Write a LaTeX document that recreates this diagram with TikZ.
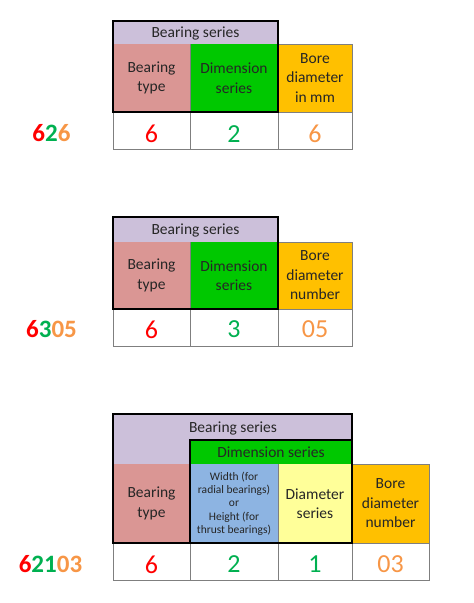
\documentclass[tikz,border=0pt]{standalone}
\usepackage{fontspec}
\setmainfont{Carlito}
\definecolor{seriesfill}{HTML}{CCC0DA}
\definecolor{typefill}{HTML}{DA9694}
\definecolor{dimfill}{HTML}{00C800}
\definecolor{borefill}{HTML}{FFC000}
\definecolor{widthfill}{HTML}{8DB4E2}
\definecolor{diafill}{HTML}{FFFF99}
\definecolor{linegrey}{HTML}{7F7F7F}
\definecolor{textdark}{HTML}{262626}
\definecolor{digred}{HTML}{FF0000}
\definecolor{diggreen}{HTML}{00B050}
\definecolor{digorange}{HTML}{F79646}

\begin{document}
\begin{tikzpicture}[x=1pt,y=-1pt,line join=miter,
    cellbox/.style={draw=linegrey,line width=0.8pt},
    groupbox/.style={draw=black,line width=2.4pt},
    head/.style={inner sep=0pt,text=textdark,font=\fontsize{15.5}{17}\selectfont},
    body/.style={inner sep=0pt,align=center,text=textdark,font=\fontsize{15.5}{19.5}\selectfont},
    small/.style={inner sep=0pt,align=center,text=textdark,font=\fontsize{11.5}{13.3}\selectfont},
    digit/.style={inner sep=0pt,font=\fontsize{26}{26}\selectfont},
    code/.style={inner sep=0pt,font=\fontsize{25}{25}\selectfont\bfseries}]
  \useasboundingbox (0,0) rectangle (474,603);

  % first table: 626
  \fill[seriesfill] (113,21) rectangle (278,44);
  \fill[typefill] (113,44) rectangle (190,112);
  \fill[dimfill] (190,44) rectangle (278,112);
  \draw[cellbox,fill=borefill] (278,44) rectangle (352,112);
  \draw[cellbox] (190,44) -- (190,112);
  \draw[cellbox] (113,112) rectangle (352,149) (190,112) -- (190,149) (278,112) -- (278,149);
  \draw[groupbox] (113,21) rectangle (278,112);
  \node[head] (seriesA) at (195.5,33) {Bearing series};
  \node[body] (typeA) at (151.5,78) {Bearing\\type};
  \node[body] (dimA) at (234,78) {Dimension\\series};
  \node[body] (boreA) at (315,78) {Bore\\diameter\\in mm};
  \node[digit,text=digred] (typevalA) at (151.5,134) {6};
  \node[digit,text=diggreen] (dimvalA) at (234,134) {2};
  \node[digit,text=digorange] (borevalA) at (315,134) {6};
  \node[code] (codeA) at (51.5,133.5) {\textcolor{digred}{6}\textcolor{diggreen}{2}\textcolor{digorange}{6}};

  % second table: 6305
  \fill[seriesfill] (113,217) rectangle (278,242);
  \fill[typefill] (113,242) rectangle (190,309);
  \fill[dimfill] (190,242) rectangle (278,309);
  \draw[cellbox,fill=borefill] (278,242) rectangle (352,309);
  \draw[cellbox] (190,242) -- (190,309);
  \draw[cellbox] (113,309) rectangle (352,346) (190,309) -- (190,346) (278,309) -- (278,346);
  \draw[groupbox] (113,217) rectangle (278,309);
  \node[head] (seriesB) at (195.5,230) {Bearing series};
  \node[body] (typeB) at (151.5,275.5) {Bearing\\type};
  \node[body] (dimB) at (234,275.5) {Dimension\\series};
  \node[body] (boreB) at (315,275.5) {Bore\\diameter\\number};
  \node[digit,text=digred] (typevalB) at (151.5,329.5) {6};
  \node[digit,text=diggreen] (dimvalB) at (234,329.5) {3};
  \node[digit,text=digorange] (borevalB) at (315,329.5) {05};
  \node[code] (codeB) at (51.5,329) {\textcolor{digred}{6}\textcolor{diggreen}{3}\textcolor{digorange}{05}};

  % third table: 62103
  \fill[seriesfill] (113,414) rectangle (352,464);
  \fill[dimfill] (190,440) rectangle (352,464);
  \fill[typefill] (113,464) rectangle (190,543);
  \fill[widthfill] (190,464) rectangle (278,543);
  \fill[diafill] (278,464) rectangle (352,543);
  \draw[cellbox,fill=borefill] (352,464) rectangle (429,543);
  \draw[cellbox] (278,464) -- (278,543);
  \draw[cellbox] (113,543) rectangle (429,580);
  \foreach \x in {190,278,352} {
    \draw[cellbox] (\x,543) -- (\x,580);
  }
  \draw[groupbox] (113,414) rectangle (352,543);
  \draw[groupbox] (190,440) rectangle (352,543);
  \node[head] (seriesC) at (233,428) {Bearing series};
  \node[head] (dimC) at (271,452.5) {Dimension series};
  \node[body] (typeC) at (151.5,503.5) {Bearing\\type};
  \node[small] (widthC) at (234,503.5) {Width (for\\radial bearings)\\or\\Height (for\\thrust bearings)};
  \node[body] (diaC) at (315,503.5) {Diameter\\series};
  \node[body] (boreC) at (390.5,503.5) {Bore\\diameter\\number};
  \node[digit,text=digred] (typevalC) at (151.5,564.5) {6};
  \node[digit,text=diggreen] (widthvalC) at (234,564.5) {2};
  \node[digit,text=diggreen] (diavalC) at (315,564.5) {1};
  \node[digit,text=digorange] (borevalC) at (390.5,564.5) {03};
  \node[code] (codeC) at (50.5,564) {\textcolor{digred}{6}\textcolor{diggreen}{21}\textcolor{digorange}{03}};
\end{tikzpicture}
\end{document}
